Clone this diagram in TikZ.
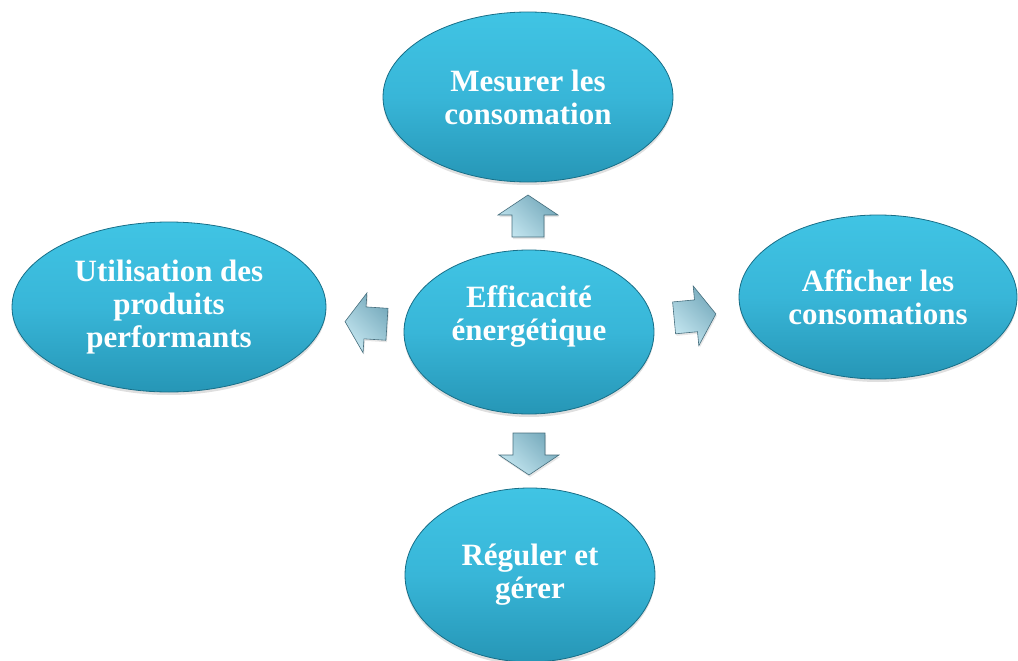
\documentclass[tikz,border=0pt]{standalone}
\usepackage{fontspec}
\setmainfont{Liberation Serif}
\usetikzlibrary{shapes.geometric,shadows}
\definecolor{cyanTop}{RGB}{64,196,228}
\definecolor{cyanMid}{RGB}{56,182,216}
\definecolor{cyanBot}{RGB}{38,150,182}
\definecolor{cyanLine}{RGB}{24,110,135}
\definecolor{arrTop}{RGB}{196,230,240}
\definecolor{arrBot}{RGB}{118,170,188}
\definecolor{arrLine}{RGB}{70,110,125}
\tikzset{
  bubble/.style={ellipse, draw=cyanLine, line width=0.8pt,
    top color=cyanTop, bottom color=cyanBot, middle color=cyanMid,
    drop shadow={opacity=0.25, shadow xshift=0pt, shadow yshift=-3pt},
    inner sep=0pt, text=white, align=center,
    font=\bfseries\fontsize{31}{33}\selectfont},
  txt/.style={text=white, align=center, inner sep=0pt,
    font=\bfseries\fontsize{31}{33}\selectfont},
  blockarrow/.style={draw=arrLine, line width=0.6pt, line join=miter,
    left color=arrTop, right color=arrBot, shading angle=135,
    drop shadow={opacity=0.2, shadow xshift=1pt, shadow yshift=-2pt}},
}
% arrow polygon pointing along +x, centred at origin: length 40, head width 60, shaft width 32
\newcommand{\blockarrowat}[3]{%
  \coordinate (#1) at (#2);
  \begin{scope}[shift={(#1)}, rotate=#3]
    \path[blockarrow] (-20,-16) -- (2,-16) -- (2,-30) -- (22,0) -- (2,30) -- (2,16) -- (-20,16) -- cycle;
  \end{scope}}
\begin{document}
\begin{tikzpicture}[x=1pt,y=1pt]
\useasboundingbox (0,0) rectangle (1018,-661);
% ellipses
\node[bubble, minimum width=290pt, minimum height=170pt] (top) at (528,-97) {Mesurer les\\consomation};
\node[bubble, minimum width=314pt, minimum height=170pt] (left) at (169,-307) {Utilisation des\\produits\\performants};
\node[bubble, minimum width=278pt, minimum height=164pt] (right) at (878,-297) {Afficher les\\consomations};
\node[bubble, minimum width=250pt, minimum height=174pt] (bottom) at (530,-575) {Réguler et\\gérer};
\node[bubble, minimum width=250pt, minimum height=164pt] (center) at (529,-332) {};
\node[txt] (centertext) at (529,-317) {Efficacité\\énergétique};
% block arrows
\blockarrowat{aup}{528,-217}{90}
\blockarrowat{adown}{529,-453}{270}
\blockarrowat{aright}{694,-316}{5.4}
\blockarrowat{aleft}{367,-323}{176.3}
\end{tikzpicture}
\end{document}
